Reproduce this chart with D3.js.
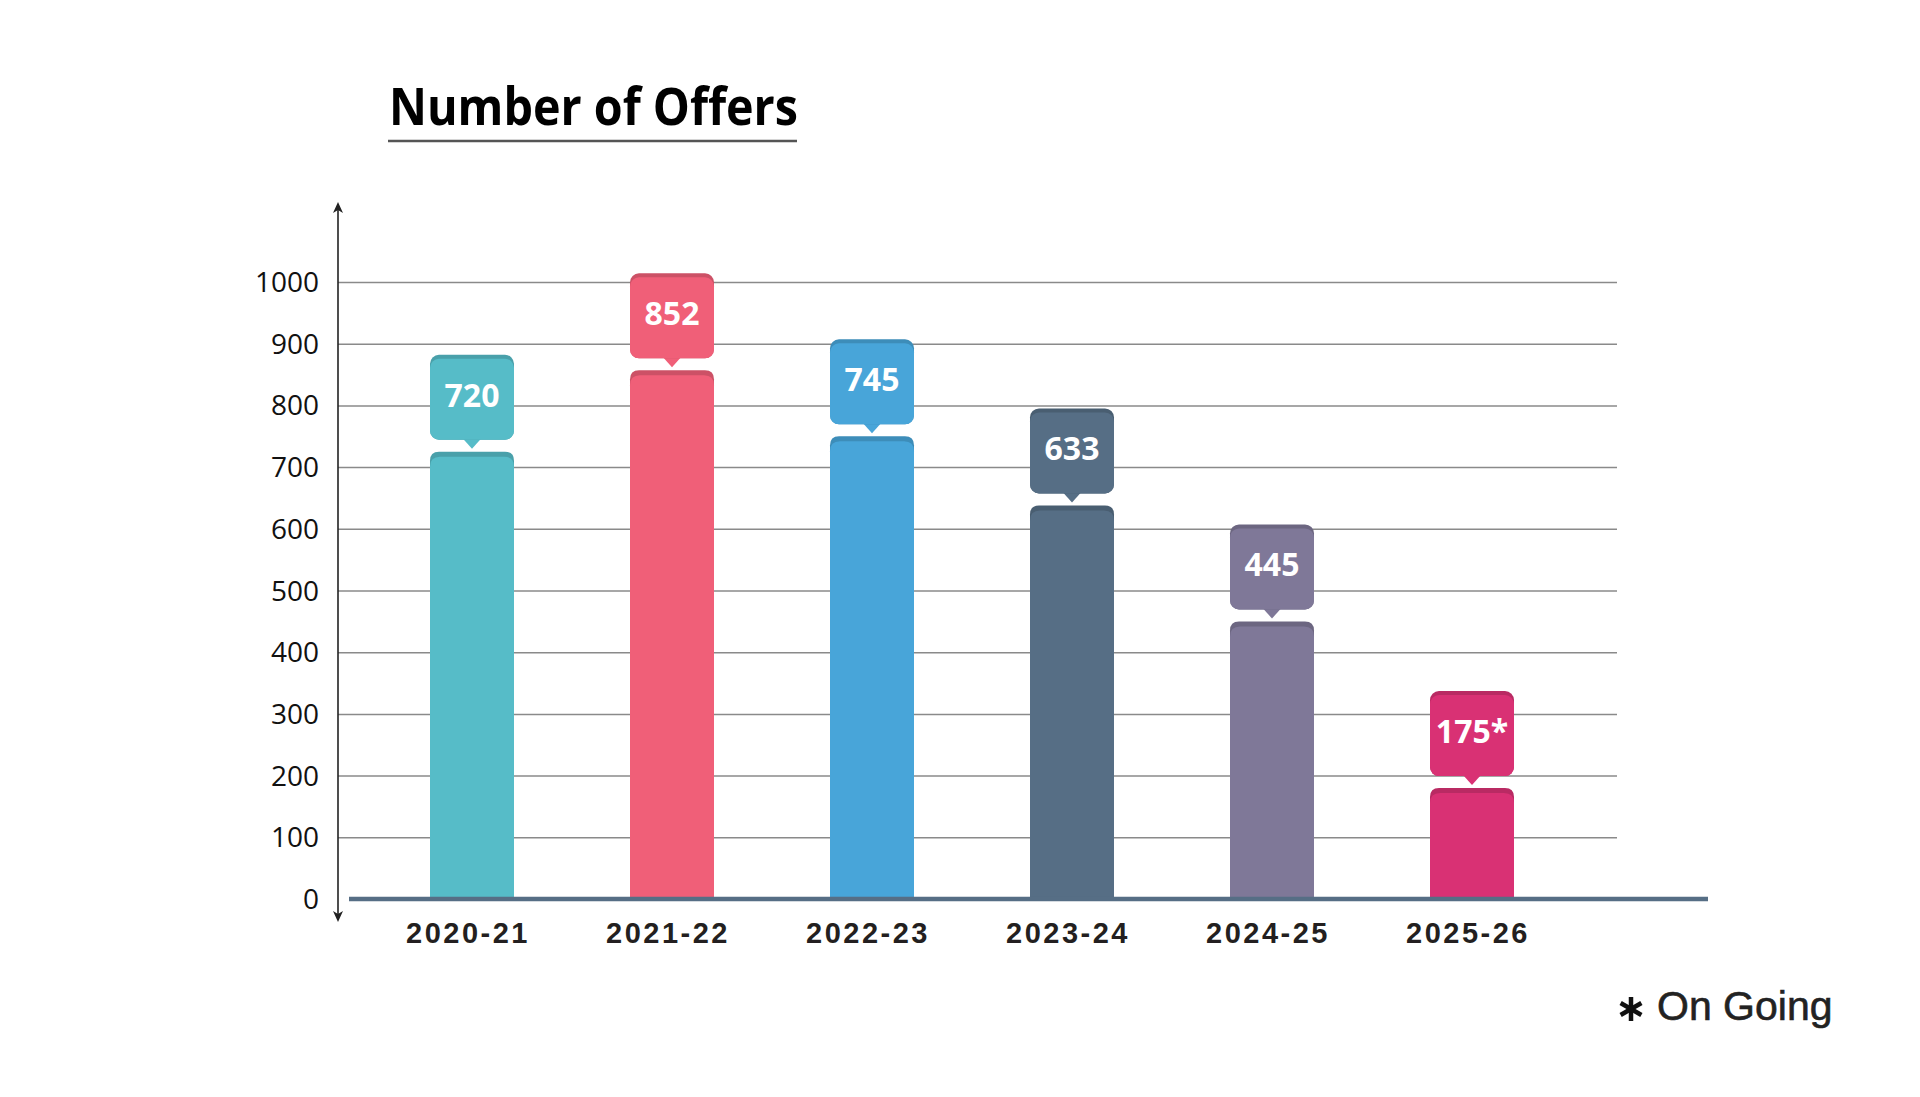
<!DOCTYPE html>
<html>
<head>
<meta charset="utf-8">
<script src="https://cdn.jsdelivr.net/npm/d3@7"></script>
<style>
  html, body { margin: 0; padding: 0; background: #fff; }
  svg { display: block; }
</style>
</head>
<body>
<div id="chart"></div>
<script>
const years = ["2020-21", "2021-22", "2022-23", "2023-24", "2024-25", "2025-26"];
const offers = [720, 852, 745, 633, 445, 175];
const valueLabels = ["720", "852", "745", "633", "445", "175*"];
const barColors = ["#56BCC8", "#F05F78", "#48A5D9", "#566E85", "#7F7898", "#D93174"];
const yTicks = [0, 100, 200, 300, 400, 500, 600, 700, 800, 900, 1000];

const W = 1920, H = 1097;
const barW = 84;

const svg = d3.select('#chart').append('svg')
  .attr('width', W)
  .attr('height', H);

const x = d3.scalePoint().domain(years).range([472, 1472]);
const y = d3.scaleLinear().domain([0, 1000]).range([899, 282]);

// title
const title = svg.append('text')
  .attr('x', 389)
  .attr('y', 125)
  .attr('font-family', '"Open Sans", sans-serif')
  .attr('font-weight', 700)
  .attr('font-size', 52)
  .attr('fill', '#000')
  .text('Number of Offers');
if (title.node().getComputedTextLength() > 409) {
  title.attr('textLength', 409).attr('lengthAdjust', 'spacingAndGlyphs');
}
svg.append('line')
  .attr('x1', 388).attr('x2', 797)
  .attr('y1', 141).attr('y2', 141)
  .attr('stroke', '#555').attr('stroke-width', 2.5);

// gridlines + tick labels
const yAxis = svg.append('g')
  .attr('transform', 'translate(338,0)')
  .call(d3.axisLeft(y).tickValues(yTicks).tickFormat(d3.format('d')).tickSize(-(1617 - 338)).tickPadding(19));
yAxis.select('.domain').remove();
yAxis.selectAll('.tick line')
  .attr('stroke', '#8a8a8a')
  .attr('stroke-width', 1.5)
  .attr('x2', 1617 - 338);
yAxis.selectAll('.tick').filter(d => d === 0).select('line').remove();
yAxis.selectAll('.tick text')
  .attr('font-family', '"Open Sans", sans-serif')
  .attr('font-size', 28)
  .attr('fill', '#111')
  .attr('x', -19)
  .attr('dy', '0.34em');

// vertical axis with arrows
svg.append('line')
  .attr('x1', 338).attr('x2', 338)
  .attr('y1', 206).attr('y2', 918)
  .attr('stroke', '#222').attr('stroke-width', 1.6);
svg.append('path')
  .attr('d', 'M338 202 L333 213 L338 210 L343 213 Z')
  .attr('fill', '#222');
svg.append('path')
  .attr('d', 'M338 922 L333 911 L338 914 L343 911 Z')
  .attr('fill', '#222');

// bars
const bars = svg.append('g').selectAll('g.bar')
  .data(years)
  .enter().append('g')
  .attr('class', 'bar');

bars.append('path')
  .attr('fill', (d, i) => d3.color(barColors[i]).darker(0.45))
  .attr('d', (d, i) => {
    const x0 = x(d) - barW / 2, top = y(offers[i]) - 3, r = 9;
    return `M${x0} ${y(0)} V${top + r} Q${x0} ${top} ${x0 + r} ${top} H${x0 + barW - r} Q${x0 + barW} ${top} ${x0 + barW} ${top + r} V${y(0)} Z`;
  });
bars.append('path')
  .attr('fill', (d, i) => barColors[i])
  .attr('d', (d, i) => {
    const x0 = x(d) - barW / 2, top = y(offers[i]) + 2, r = 10;
    return `M${x0} ${y(0)} V${top + r} Q${x0} ${top} ${x0 + r} ${top} H${x0 + barW - r} Q${x0 + barW} ${top} ${x0 + barW} ${top + r} V${y(0)} Z`;
  });

// callouts
const boxH = 85;
bars.append('path')
  .attr('fill', (d, i) => barColors[i])
  .attr('d', (d, i) => {
    const cx = x(d), bottom = y(offers[i]) - 15;
    return `M${cx - 9} ${bottom - 1} L${cx} ${bottom + 9} L${cx + 9} ${bottom - 1} Z`;
  });
bars.append('rect')
  .attr('x', d => x(d) - barW / 2)
  .attr('y', (d, i) => y(offers[i]) - 15 - boxH)
  .attr('width', barW)
  .attr('height', boxH)
  .attr('rx', 9)
  .attr('fill', (d, i) => d3.color(barColors[i]).darker(0.45));
bars.append('rect')
  .attr('x', d => x(d) - barW / 2)
  .attr('y', (d, i) => y(offers[i]) - 15 - boxH + 4)
  .attr('width', barW)
  .attr('height', boxH - 4)
  .attr('rx', 9)
  .attr('fill', (d, i) => barColors[i]);
bars.append('text')
  .attr('x', d => x(d))
  .attr('y', (d, i) => y(offers[i]) - 15 - boxH / 2 - 2)
  .attr('dy', '0.36em')
  .attr('text-anchor', 'middle')
  .attr('font-family', '"Open Sans", sans-serif')
  .attr('font-weight', 700)
  .attr('font-size', 32)
  .attr('fill', '#fff')
  .text((d, i) => valueLabels[i]);

// baseline
svg.append('line')
  .attr('x1', 349).attr('x2', 1708)
  .attr('y1', y(0)).attr('y2', y(0))
  .attr('stroke', '#566E85').attr('stroke-width', 4.5);

// category labels
svg.append('g').selectAll('text')
  .data(years)
  .enter().append('text')
  .attr('x', d => x(d) - 4)
  .attr('y', 943)
  .attr('text-anchor', 'middle')
  .attr('font-family', '"Liberation Sans", Arial, sans-serif')
  .attr('font-weight', 700)
  .attr('font-size', 29)
  .attr('letter-spacing', 2.5)
  .attr('fill', '#231f20')
  .text(d => d);

// footnote
const star = svg.append('g').attr('transform', 'translate(1631,1009)');
[0, 60, 120].forEach(a => {
  star.append('line')
    .attr('x1', 0).attr('y1', -12).attr('x2', 0).attr('y2', 12)
    .attr('transform', `rotate(${a})`)
    .attr('stroke', '#111').attr('stroke-width', 4.5);
});
svg.append('text')
  .attr('x', 1657)
  .attr('y', 1020)
  .attr('font-family', '"Liberation Sans", Arial, sans-serif')
  .attr('font-size', 41)
  .attr('fill', '#222')
  .attr('stroke', '#222')
  .attr('stroke-width', 0.6)
  .text('On Going');
</script>
</body>
</html>
